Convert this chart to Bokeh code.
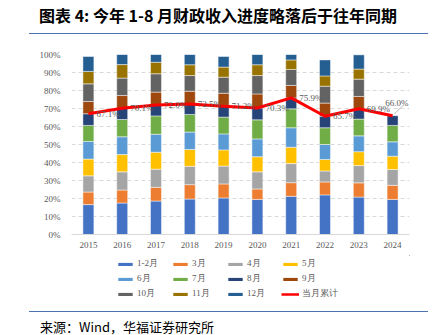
from bokeh.plotting import figure
from bokeh.models import (Range1d, FactorRange, FixedTicker, PrintfTickFormatter,
                          Legend, LegendItem, ColumnDataSource, Div)
from bokeh.layouts import column
from bokeh.core.properties import value
from bokeh.embed import file_html
from bokeh.resources import INLINE

# ---------------- data (cumulative revenue progress, % of full year) ----------------
years = ["2015", "2016", "2017", "2018", "2019", "2020", "2021", "2022", "2023", "2024"]
cum_m02 = [16.6, 17.5, 18.6, 19.7, 20.3, 19.5, 21.2, 22.0, 20.8, 19.5]
cum_m03 = [23.6, 24.7, 26.2, 27.7, 28.1, 25.3, 28.8, 29.2, 28.7, 27.3]
cum_m04 = [32.6, 34.8, 36.3, 37.9, 38.0, 34.8, 39.4, 35.3, 38.3, 36.1]
cum_m05 = [41.9, 44.4, 45.7, 47.2, 47.0, 43.2, 48.5, 41.7, 46.0, 43.5]
cum_m06 = [51.7, 54.3, 55.7, 56.9, 55.9, 53.1, 59.3, 50.0, 54.8, 51.5]
cum_m07 = [60.6, 63.9, 65.9, 66.7, 65.2, 63.7, 69.8, 59.3, 64.1, 60.6]
cum_m08 = [67.1, 70.1, 72.0, 72.5, 71.2, 70.3, 75.9, 65.7, 69.9, 66.0]
cum_m09 = [73.9, 77.2, 79.1, 79.6, 78.5, 78.1, 82.8, 73.0, 76.7]
cum_m10 = [83.7, 86.9, 89.3, 88.3, 87.4, 88.3, 91.7, 82.4, 86.3]
cum_m11 = [90.6, 94.4, 95.7, 94.3, 93.0, 94.3, 97.0, 88.1, 91.9]
cum_m12 = [98.9, 100.0, 100.0, 100.0, 98.9, 100.0, 100.0, 97.0, 99.8]
month_labels = ["1-2月", "3月", "4月", "5月", "6月", "7月", "8月", "9月", "10月", "11月", "12月"]
line_label = "当月累计"
y_ticks = list(range(0, 101, 10))
title_text = "图表 4: 今年 1-8 月财政收入进度略落后于往年同期"
source_text = "来源：Wind，华福证券研究所"

colors = ["#4472C4", "#ED7D31", "#A5A5A5", "#FFC000", "#5B9BD5", "#70AD47",
          "#264478", "#9E480E", "#636363", "#997300", "#255E91"]
series = [cum_m02, cum_m03, cum_m04, cum_m05, cum_m06, cum_m07,
          cum_m08, cum_m09, cum_m10, cum_m11, cum_m12]
LINE_COLOR = "#FF0000"

SERIF = value("Liberation Serif")
GRAY = "#595959"

# ---------------- title strip ----------------
top = Div(width=443, height=40, margin=0, styles={"overflow": "visible"}, text=(
    '<div style="position:relative;width:443px;height:40px;">'
    '<div style="position:absolute;left:39px;top:4px;font-family:\'Noto Sans CJK SC\';'
    'font-weight:bold;font-size:16px;line-height:22px;white-space:nowrap;color:#000;">'
    + title_text + '</div>'
    '<div style="position:absolute;left:29px;top:33px;width:399px;height:0;'
    'border-top:1.5px solid #4a72b0;"></div></div>'))

# ---------------- main chart ----------------
p = figure(width=443, height=215, x_range=FactorRange(*years, range_padding=0),
           y_range=Range1d(0, 100), output_backend="svg", toolbar_location=None,
           min_border_left=71, min_border_right=34, min_border_top=14, min_border_bottom=21)
p.outline_line_color = None
p.xgrid.visible = False
p.ygrid.grid_line_color = "#d9d9d9"
p.ygrid.grid_line_dash = "4 3"
p.ygrid.grid_line_width = 1

p.yaxis.ticker = FixedTicker(ticks=y_ticks)
p.yaxis.formatter = PrintfTickFormatter(format="%d%%")
p.yaxis.axis_line_color = None
p.yaxis.major_tick_line_color = None
p.yaxis.minor_tick_line_color = None
p.yaxis.major_label_standoff = 5
p.xaxis.axis_line_color = "#d9d9d9"
p.xaxis.major_tick_line_color = None
p.xaxis.minor_tick_line_color = None
p.xaxis.major_label_standoff = 1
for ax in (p.xaxis, p.yaxis):
    ax.major_label_text_font = "Liberation Serif"
    ax.major_label_text_font_size = "9px"
    ax.major_label_text_color = GRAY

prev = [0.0] * len(years)
for col, cum in zip(colors, series):
    n = len(cum)
    src = ColumnDataSource(dict(x=years[:n], top=cum, bottom=prev[:n]))
    p.vbar(x="x", top="top", bottom="bottom", width=0.325, source=src,
           fill_color=col, line_color="#ffffff", line_width=0.6, line_alpha=0.8)
    prev = cum

lsrc = ColumnDataSource(dict(x=years, y=cum_m08))
p.line(x="x", y="y", source=lsrc, line_color=LINE_COLOR, line_width=3)

tsrc = ColumnDataSource(dict(x=years[:-1], y=cum_m08[:-1], t=["%.1f%%" % v for v in cum_m08[:-1]]))
p.text(x="x", y="y", text="t", source=tsrc, x_offset=8, text_baseline="middle",
       text_align="left", text_font=SERIF, text_font_size="9px", text_color=GRAY)
# last label with a leader line (kept inside the plot frame)
p.text(x=[years[-1]], y=[cum_m08[-1]], text=["%.1f%%" % cum_m08[-1]], x_offset=16, y_offset=-13,
       text_baseline="middle", text_align="right", text_font=SERIF, text_font_size="9px",
       text_color=GRAY)
p.segment(x0=[(years[-1], 0.05)], y0=[cum_m08[-1] + 1], x1=[(years[-1], 0.3)],
          y1=[cum_m08[-1] + 5.5], line_color="#a6a6a6", line_width=0.8)

# ---------------- legend strip ----------------
lg = figure(width=443, height=55, x_range=Range1d(0, 1), y_range=Range1d(0, 1),
            output_backend="svg", toolbar_location=None, min_border=0,
            x_axis_location=None, y_axis_location=None)
lg.grid.visible = False
lg.outline_line_color = None
items = []
# legend proxies: single off-screen samples so the legend swatches get drawn
for lab, col in zip(month_labels, colors):
    r = lg.vbar(x=[5], top=[6], bottom=[5], width=0.1, fill_color=col, line_color=None)
    items.append(LegendItem(label=lab, renderers=[r]))
r = lg.line(x=[5, 6], y=[5, 5], line_color=LINE_COLOR, line_width=2.5)
items.append(LegendItem(label=line_label, renderers=[r]))
legend = Legend(items=items, ncols=4, orientation="horizontal", location=(45, 10),
                glyph_width=18, glyph_height=4, label_height=10, label_width=32,
                label_standoff=3, spacing=2, padding=0, margin=0,
                label_text_font="Liberation Serif", label_text_font_size="9px",
                label_text_color=GRAY, border_line_alpha=0, background_fill_alpha=0)
lg.add_layout(legend, "center")

# ---------------- source strip ----------------
bot = Div(width=443, height=25, margin=0, styles={"overflow": "visible"}, text=(
    '<div style="position:relative;width:443px;height:25px;">'
    '<div style="position:absolute;left:29px;top:1px;width:399px;height:0;'
    'border-top:1.5px solid #4a72b0;"></div>'
    '<div style="position:absolute;left:40px;top:9px;font-family:\'Noto Sans CJK SC\';'
    'font-size:13px;line-height:16px;white-space:nowrap;color:#000;">'
    + source_text + '</div></div>'))

layout = column(top, p, lg, bot, spacing=0)
open("out.html", "w").write(file_html(layout, INLINE))
